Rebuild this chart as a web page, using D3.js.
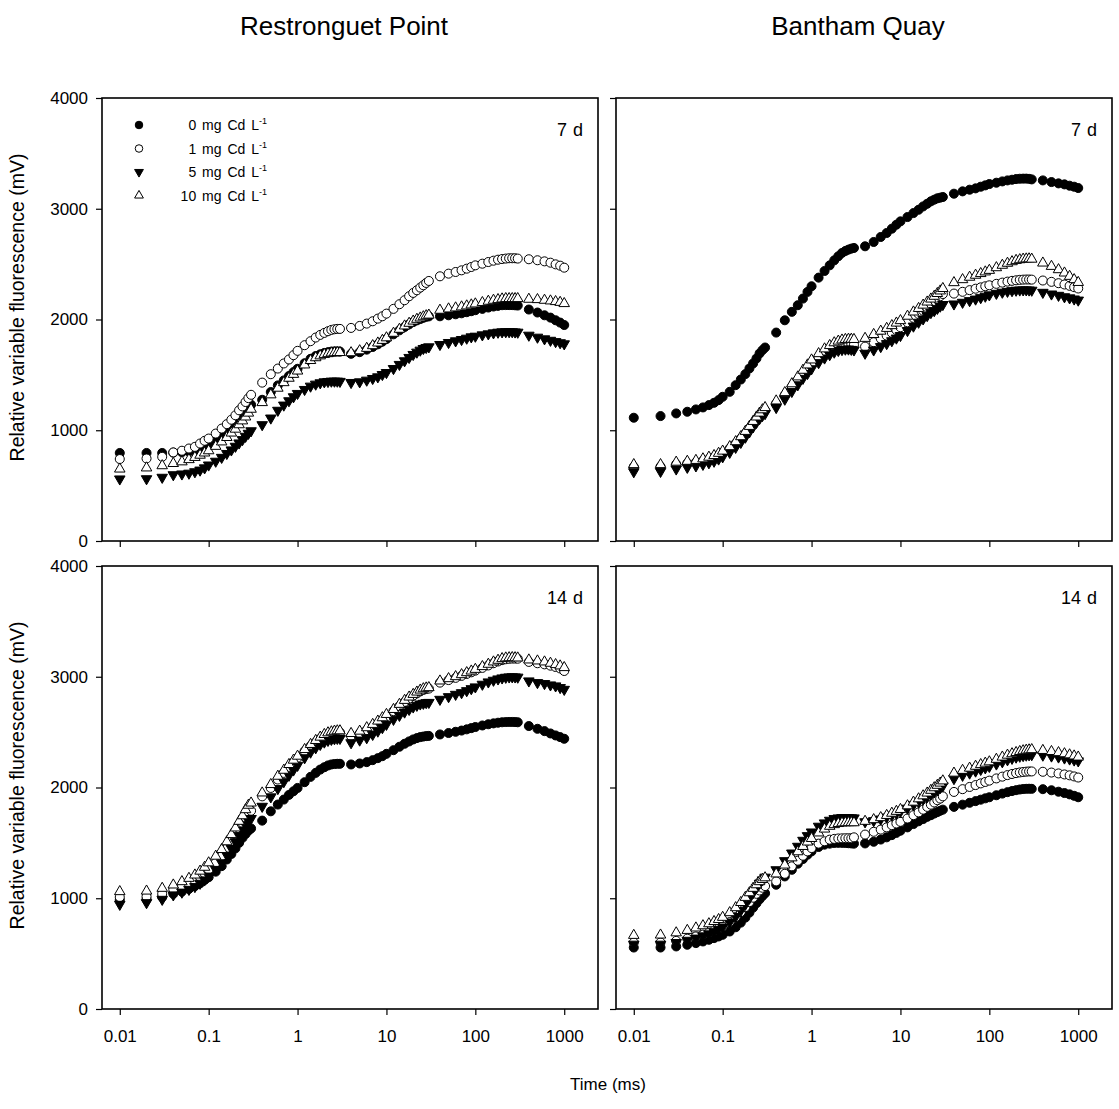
<!DOCTYPE html>
<html lang="en">
<head>
<meta charset="UTF-8">
<title>Chlorophyll fluorescence transients</title>
<script src="https://d3js.org/d3.v7.min.js"></script>
<style>
  body { margin: 0; background: #fff; }
  text { font-family: "Liberation Sans", Arial, sans-serif; fill: #000; }
</style>
</head>
<body>
<script>
// sampling times (ms)
const times = [0.01,0.02,0.03,0.04,0.05,0.06,0.07,0.08,0.09,0.1,0.12,0.14,0.16,0.18,0.2,0.22,0.24,0.26,0.28,0.3,
  0.4,0.5,0.6,0.7,0.8,0.9,1,1.2,1.4,1.6,1.8,2,2.2,2.4,2.6,2.8,3,
  4,5,6,7,8,9,10,12,14,16,18,20,22,24,26,28,30,
  40,50,60,70,80,90,100,120,140,160,180,200,220,240,260,280,300,
  400,500,600,700,800,900,1000];

// Restronguet Point, 7 d
const rp7_0 = [795,795,795,798,802,808,818,835,852,870,910,950,990,1030,1070,1105,1140,1170,1200,1230,
  1275,1345,1405,1450,1490,1525,1555,1605,1645,1670,1685,1698,1705,1710,1712,1712,1710,
  1690,1705,1728,1752,1776,1800,1824,1866,1902,1932,1956,1977,1992,2004,2015,2024,2028,
  2029,2038,2047,2056,2066,2075,2084,2096,2108,2117,2123,2129,2130,2130,2130,2128,2126,
  2090,2063,2038,2017,1993,1972,1950];
const rp7_1 = [740,745,760,800,815,835,850,880,905,925,970,1015,1055,1095,1135,1180,1215,1255,1290,1320,
  1430,1506,1557,1603,1639,1678,1717,1768,1804,1837,1861,1879,1894,1906,1912,1915,1915,
  1924,1942,1963,1984,2008,2029,2053,2096,2138,2174,2210,2240,2264,2288,2309,2330,2348,
  2390,2414,2429,2444,2459,2474,2489,2504,2519,2531,2540,2546,2550,2553,2553,2553,2550,
  2544,2535,2525,2513,2498,2486,2468];
const rp7_5 = [560,562,575,598,605,612,625,640,660,686,720,755,790,822,855,885,915,945,972,995,
  1050,1110,1180,1227,1266,1302,1332,1368,1398,1416,1428,1437,1440,1443,1443,1443,1441,
  1431,1437,1452,1467,1482,1503,1521,1557,1594,1627,1657,1684,1705,1723,1738,1747,1753,
  1774,1792,1807,1819,1831,1843,1849,1861,1870,1879,1885,1888,1889,1889,1889,1887,1885,
  1858,1840,1825,1812,1800,1790,1780];
const rp7_10 = [650,660,680,700,715,735,755,775,795,815,855,895,935,975,1010,1050,1085,1120,1155,1190,
  1250,1320,1380,1430,1470,1505,1535,1590,1630,1655,1672,1685,1692,1698,1700,1702,1702,
  1700,1718,1740,1764,1788,1812,1835,1876,1912,1942,1966,1986,2002,2014,2025,2034,2040,
  2084,2096,2105,2114,2123,2132,2141,2153,2165,2174,2180,2186,2189,2189,2189,2189,2189,
  2183,2180,2174,2168,2162,2155,2144];

// Bantham Quay, 7 d
const bq7_0 = [1113,1128,1152,1167,1188,1206,1227,1248,1272,1302,1347,1407,1458,1507,1558,1603,1648,1693,1723,1747,
  1882,1993,2069,2129,2189,2249,2300,2378,2438,2489,2534,2571,2601,2619,2631,2640,2646,
  2661,2700,2745,2781,2820,2856,2886,2925,2961,2991,3021,3045,3067,3082,3094,3100,3106,
  3136,3157,3172,3184,3199,3211,3223,3235,3247,3256,3262,3268,3271,3272,3272,3270,3265,
  3256,3241,3229,3220,3208,3199,3187];
const bq7_1 = [670,672,694,702,711,725,740,756,776,797,836,881,926,972,1018,1060,1100,1135,1162,1180,
  1242,1317,1392,1452,1510,1555,1600,1655,1697,1727,1750,1765,1773,1778,1779,1777,1772,
  1755,1795,1828,1855,1880,1905,1930,1975,2015,2050,2080,2108,2135,2160,2185,2210,2230,
  2234,2250,2265,2278,2290,2300,2309,2322,2333,2342,2349,2354,2358,2360,2361,2361,2360,
  2352,2340,2328,2316,2304,2292,2280];
const bq7_5 = [625,628,650,665,678,692,706,720,740,760,800,845,890,937,985,1030,1070,1105,1132,1150,
  1205,1280,1350,1410,1468,1512,1555,1610,1652,1682,1705,1720,1728,1732,1733,1730,1725,
  1695,1725,1755,1782,1808,1832,1855,1900,1940,1975,2005,2035,2062,2080,2100,2120,2135,
  2140,2155,2170,2184,2197,2210,2222,2236,2246,2254,2260,2264,2266,2267,2267,2266,2264,
  2245,2230,2218,2205,2195,2185,2175];
const bq7_10 = [690,690,712,720,728,742,757,772,792,812,852,897,942,990,1035,1080,1120,1155,1185,1205,
  1265,1340,1420,1482,1542,1590,1635,1692,1735,1765,1790,1805,1815,1820,1822,1822,1820,
  1830,1865,1895,1920,1945,1968,1990,2030,2068,2100,2130,2158,2185,2210,2235,2258,2280,
  2333,2360,2382,2400,2415,2430,2444,2468,2490,2508,2522,2534,2540,2545,2547,2548,2545,
  2510,2480,2450,2420,2390,2360,2335];

// Restronguet Point, 14 d
const rp14_0 = [985,990,1010,1040,1060,1085,1110,1135,1165,1190,1240,1290,1350,1400,1450,1500,1545,1580,1610,1630,
  1701,1785,1846,1891,1933,1966,1996,2048,2096,2132,2162,2183,2199,2208,2212,2214,2214,
  2208,2217,2229,2247,2265,2283,2304,2337,2368,2395,2416,2434,2446,2455,2460,2464,2466,
  2479,2492,2503,2514,2525,2536,2546,2560,2571,2579,2585,2589,2591,2592,2592,2591,2589,
  2555,2530,2509,2488,2470,2455,2440];
const rp14_1 = [1010,1015,1040,1080,1105,1130,1160,1190,1225,1260,1320,1380,1450,1515,1575,1630,1680,1730,1770,1790,
  1920,1996,2072,2132,2186,2229,2268,2328,2374,2410,2440,2464,2479,2488,2494,2497,2497,
  2464,2488,2518,2548,2578,2608,2638,2690,2735,2772,2803,2828,2850,2868,2881,2889,2893,
  2947,2970,2990,3008,3025,3040,3055,3080,3102,3122,3138,3150,3158,3162,3164,3164,3163,
  3134,3122,3112,3100,3088,3075,3052];
const rp14_5 = [945,960,990,1030,1055,1080,1105,1135,1165,1200,1260,1320,1390,1450,1510,1565,1615,1660,1700,1720,
  1830,1915,1990,2052,2110,2158,2200,2268,2319,2358,2389,2410,2425,2434,2440,2443,2443,
  2404,2428,2449,2479,2509,2540,2570,2615,2651,2681,2705,2727,2742,2754,2760,2766,2768,
  2796,2820,2841,2856,2874,2892,2908,2932,2953,2968,2980,2989,2995,2998,2999,2998,2996,
  2962,2947,2938,2926,2917,2902,2886];
const rp14_10 = [1060,1065,1090,1120,1150,1180,1210,1245,1280,1320,1380,1440,1510,1575,1635,1695,1745,1800,1840,1860,
  1951,2027,2102,2156,2208,2247,2283,2343,2389,2425,2455,2479,2494,2503,2509,2512,2512,
  2488,2509,2540,2570,2600,2630,2660,2705,2751,2787,2817,2841,2862,2880,2892,2899,2902,
  2962,2983,3001,3019,3037,3052,3067,3092,3113,3134,3149,3164,3170,3172,3173,3172,3170,
  3152,3143,3134,3122,3110,3098,3083];

// Bantham Quay, 14 d
const bq14_0 = [555,555,565,580,595,610,625,640,655,670,700,738,780,825,870,915,955,990,1020,1045,
  1122,1197,1257,1312,1354,1393,1423,1463,1484,1493,1499,1500,1500,1499,1497,1495,1493,
  1495,1510,1530,1550,1570,1590,1610,1640,1670,1695,1715,1735,1750,1765,1778,1790,1800,
  1825,1845,1862,1877,1890,1902,1912,1930,1945,1958,1968,1976,1982,1986,1988,1989,1988,
  1985,1975,1962,1950,1938,1925,1912];
const bq14_1 = [600,600,615,635,655,672,690,708,726,745,785,830,875,920,965,1005,1040,1070,1095,1110,
  1152,1221,1288,1339,1384,1423,1453,1493,1514,1529,1536,1540,1541,1542,1542,1541,1550,
  1575,1600,1620,1640,1660,1675,1690,1720,1750,1775,1800,1825,1845,1865,1885,1900,1920,
  1960,1985,2005,2022,2037,2050,2062,2082,2098,2112,2122,2130,2136,2140,2143,2145,2145,
  2142,2135,2127,2118,2110,2100,2090];
const bq14_5 = [585,585,600,620,640,660,678,698,718,740,785,835,890,945,1000,1050,1095,1135,1165,1190,
  1257,1339,1408,1469,1523,1565,1598,1650,1680,1704,1719,1725,1728,1728,1727,1726,1725,
  1690,1700,1715,1733,1750,1767,1783,1813,1843,1870,1895,1918,1940,1960,1980,1998,2015,
  2080,2110,2130,2148,2163,2177,2190,2212,2232,2250,2263,2274,2282,2288,2292,2295,2296,
  2292,2284,2275,2266,2257,2248,2240];
const bq14_10 = [665,668,688,710,732,752,770,790,808,828,870,915,962,1008,1050,1090,1122,1150,1170,1185,
  1220,1300,1365,1420,1468,1508,1540,1590,1625,1650,1665,1675,1680,1682,1683,1683,1682,
  1695,1710,1728,1748,1768,1785,1802,1835,1868,1898,1925,1950,1975,1998,2020,2040,2060,
  2130,2155,2175,2192,2207,2220,2232,2255,2275,2292,2305,2316,2325,2332,2337,2340,2342,
  2335,2325,2315,2305,2295,2285,2275];

const treatments = ["0 mg Cd L", "1 mg Cd L", "5 mg Cd L", "10 mg Cd L"];
const sites = ["Restronguet Point", "Bantham Quay"];
const days = ["7 d", "14 d"];
const xTicks = [0.01, 0.1, 1, 10, 100, 1000];
const xTickLabels = ["0.01", "0.1", "1", "10", "100", "1000"];
const yTicks = [0, 1000, 2000, 3000, 4000];

const panels = [
  { col: 0, row: 0, series: [rp7_0, rp7_1, rp7_5, rp7_10] },
  { col: 1, row: 0, series: [bq7_0, bq7_1, bq7_5, bq7_10] },
  { col: 0, row: 1, series: [rp14_0, rp14_1, rp14_5, rp14_10] },
  { col: 1, row: 1, series: [bq14_0, bq14_1, bq14_5, bq14_10] }
];

// marker styles: filled circle, open circle, filled down-triangle, open triangle
const markers = [
  { type: d3.symbolCircle, size: 64, fill: "#000", rot: 0 },
  { type: d3.symbolCircle, size: 64, fill: "#fff", rot: 0 },
  { type: d3.symbolTriangle, size: 48, fill: "#000", rot: 180 },
  { type: d3.symbolTriangle, size: 48, fill: "#fff", rot: 0 }
];

const W = 496, H = 443;
const colX = [102, 616];
const rowY = [98, 566];

const svg = d3.select("body").append("svg")
  .attr("width", 1119).attr("height", 1109);

const x = d3.scaleLog().domain([Math.pow(10, -2.2), Math.pow(10, 3.38)]).range([0, W]);
const y = d3.scaleLinear().domain([0, 4000]).range([H, 0]);

panels.forEach(p => {
  const g = svg.append("g").attr("transform", `translate(${colX[p.col]},${rowY[p.row]})`);

  // x axis
  const xa = g.append("g").attr("transform", `translate(0,${H})`)
    .call(d3.axisBottom(x).tickValues(xTicks).tickSize(6).tickPadding(15)
      .tickFormat((d, i) => p.row === 1 ? xTickLabels[i] : ""));
  xa.select(".domain").remove();
  xa.selectAll("line").attr("stroke-width", 1.2);
  xa.selectAll("text").attr("font-size", 17).attr("font-family", "Liberation Sans, Arial, sans-serif");

  // y axis
  const ya = g.append("g")
    .call(d3.axisLeft(y).tickValues(yTicks).tickSize(6).tickPadding(8)
      .tickFormat(d => p.col === 0 ? d : ""));
  ya.select(".domain").remove();
  ya.selectAll("line").attr("stroke-width", 1.2);
  ya.selectAll("text").attr("font-size", 17).attr("font-family", "Liberation Sans, Arial, sans-serif");

  // frame
  g.append("rect").attr("x", 0).attr("y", 0).attr("width", W).attr("height", H)
    .attr("fill", "none").attr("stroke", "#000").attr("stroke-width", 1.6);

  // data
  p.series.forEach((vals, si) => {
    const m = markers[si];
    const sym = d3.symbol().type(m.type).size(m.size);
    g.append("g").selectAll("path")
      .data(times.map((t, i) => [t, vals[i]]))
      .join("path")
      .attr("d", sym)
      .attr("transform", d => `translate(${x(d[0])},${y(d[1])}) rotate(${m.rot})`)
      .attr("fill", m.fill)
      .attr("stroke", "#000")
      .attr("stroke-width", 1);
  });

  // day label
  g.append("text").attr("x", W - 15).attr("y", 38)
    .attr("text-anchor", "end").attr("font-size", 18).attr("word-spacing", 1)
    .text(days[p.row]);
});

// legend in first panel
const leg = svg.append("g").attr("transform", `translate(${colX[0]},${rowY[0]})`);
treatments.forEach((t, i) => {
  const m = markers[i];
  const cy = 27 + i * 23.5;
  leg.append("path")
    .attr("d", d3.symbol().type(m.type).size(m.size * 0.7))
    .attr("transform", `translate(37,${cy}) rotate(${m.rot})`)
    .attr("fill", m.fill).attr("stroke", "#000").attr("stroke-width", 1);
  const tx = leg.append("text").attr("x", 165).attr("y", cy + 5)
    .attr("text-anchor", "end").attr("font-size", 14).attr("word-spacing", 2);
  tx.append("tspan").text(t);
  tx.append("tspan").attr("font-size", 9).attr("dy", -6).text("-1");
});

// column titles
sites.forEach((s, i) => {
  svg.append("text").attr("x", colX[i] + W / 2 - 6).attr("y", 35)
    .attr("text-anchor", "middle").attr("font-size", 26).text(s);
});

// axis titles
rowY.forEach(r => {
  svg.append("text")
    .attr("transform", `translate(24,${r + H / 2 - 12}) rotate(-90)`)
    .attr("text-anchor", "middle").attr("font-size", 19.5)
    .text("Relative variable fluorescence (mV)");
});
svg.append("text").attr("x", 608).attr("y", 1090)
  .attr("text-anchor", "middle").attr("font-size", 17).text("Time (ms)");
</script>
</body>
</html>
